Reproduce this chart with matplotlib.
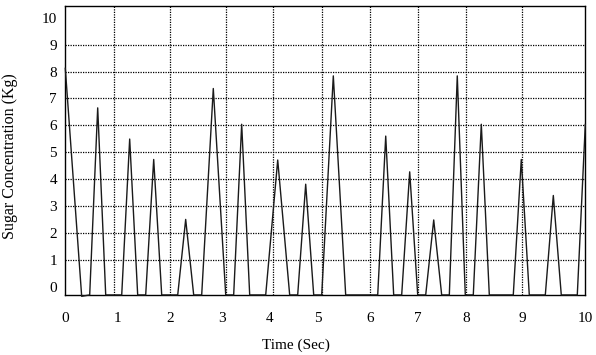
import matplotlib
matplotlib.use("Agg")
import matplotlib.pyplot as plt

# valores
tiempo = [0.0, 0.315, 0.469, 0.623, 0.777, 1.085, 1.238, 1.392, 1.546, 1.700,
          1.854, 2.162, 2.315, 2.469, 2.623, 2.846, 3.085, 3.238, 3.392, 3.546,
          3.854, 4.085, 4.315, 4.469, 4.623, 4.777, 4.931, 5.154, 5.392, 6.008,
          6.162, 6.315, 6.469, 6.623, 6.777, 6.931, 7.085, 7.238, 7.385, 7.538,
          7.692, 7.846, 8.0, 8.154, 8.615, 8.769, 8.923, 9.231, 9.385, 9.538,
          9.846, 10.0]
azucar = [8.12, -0.36, -0.31, 6.65, -0.31, -0.31, 5.49, -0.31, -0.31, 4.73,
          -0.31, -0.31, 2.50, -0.31, -0.31, 7.37, -0.31, -0.31, 6.04, -0.31,
          -0.31, 4.71, -0.31, -0.31, 3.81, -0.31, -0.31, 7.84, -0.31, -0.31,
          5.60, -0.31, -0.31, 4.27, -0.31, -0.31, 2.48, -0.31, -0.31, 7.84,
          -0.31, -0.31, 6.04, -0.31, -0.31, 4.73, -0.31, -0.31, 3.39, -0.31,
          -0.31, 6.03]

# etiquetas del eje x (no caen justo en los enteros en el original)
pos_etiquetas_x = [0.0, 1.01, 2.01, 3.01, 3.92, 4.85, 5.86, 6.78, 7.71, 8.78, 10.0]
etiquetas_x = ["0", "1", "2", "3", "4", "5", "6", "7", "8", "9", "10"]
# lineas verticales de la rejilla
rejilla_x = [0.931, 2.008, 3.085, 4.0, 4.931, 5.86, 6.777, 7.70, 8.777]
etiquetas_y = list(range(0, 11))
rejilla_y = list(range(1, 10))

plt.rcParams["font.family"] = ["Liberation Serif", "DejaVu Serif"]

fig = plt.figure(figsize=(5.96, 3.55), dpi=100)
ax = fig.add_axes([65.3 / 596, 60 / 355, 520 / 596, 289 / 355])

for gx in rejilla_x:
    ax.axvline(gx, color="black", lw=0.9, ls=(0, (1, 1)), zorder=1)
for gy in rejilla_y:
    ax.axhline(gy, color="black", lw=0.9, ls=(0, (1, 1)), zorder=1)

ax.plot(tiempo, azucar, color="#1a1a1a", lw=1.0, zorder=3, clip_on=False)

ax.set_xlim(0, 10)
ax.set_ylim(-0.312, 10.44)

ax.set_xticks(pos_etiquetas_x)
ax.set_xticklabels(etiquetas_x)
ax.set_yticks(etiquetas_y)
ax.set_yticklabels([str(v) for v in etiquetas_y])
ax.tick_params(axis="both", length=0, labelsize=11, colors="black")
ax.tick_params(axis="x", pad=12)
ax.tick_params(axis="y", pad=6)

for s in ax.spines.values():
    s.set_color("black")
    s.set_linewidth(1.0)

# titulos de los ejes (el de x no esta centrado en el original)
fig.text(296 / 596, (355 - 345) / 355, "Time (Sec)", ha="center", va="center", fontsize=11)
fig.text(10 / 596, (355 - 156) / 355, "Sugar Concentration (Kg)", ha="center", va="center",
         rotation=90, fontsize=11.5)

fig.savefig("out.png", dpi=100)
